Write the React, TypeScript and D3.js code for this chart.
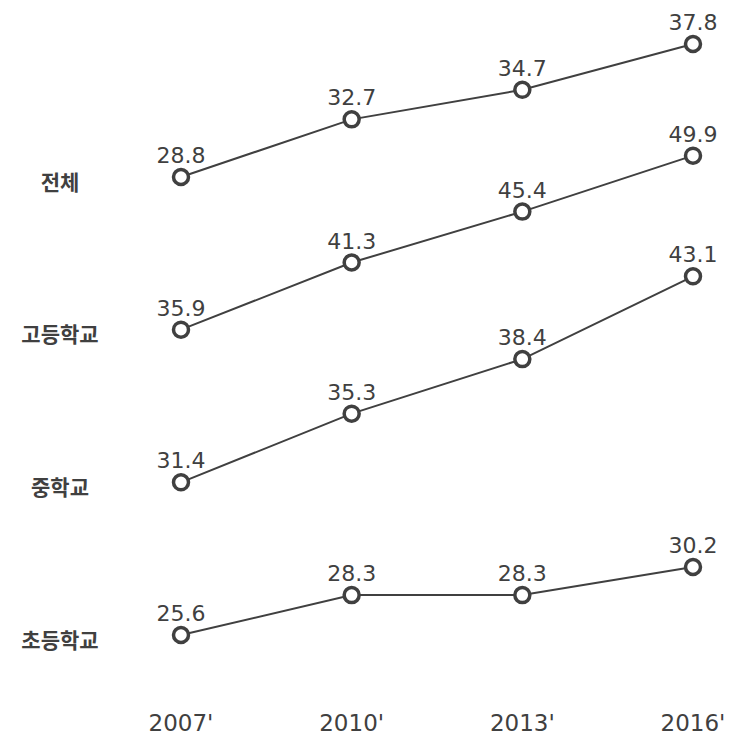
import * as d3 from "d3"

const years = ["2007'", "2010'", "2013'", "2016'"]
const rows = ["전체", "고등학교", "중학교", "초등학교"]

const total = [28.8, 32.7, 34.7, 37.8]
const high = [35.9, 41.3, 45.4, 49.9]
const middle = [31.4, 35.3, 38.4, 43.1]
const elementary = [25.6, 28.3, 28.3, 30.2]

const series = [total, high, middle, elementary]

// vertical pixel span each row's line occupies
const rowSpan = [133, 174, 206, 68]

const W = 731
const H = 743
const ink = "#404040"
const numFont = "'DejaVu Sans', 'Noto Sans', sans-serif"
const krFont = "'Noto Sans CJK KR', sans-serif"

export default function App() {
  const x = d3.scalePoint<string>().domain(years).range([181, 693])
  const rowY = d3.scalePoint<string>().domain(rows).range([177, 635])

  const lines = series.map((vals, i) => {
    const base = rowY(rows[i])!
    const y = d3
      .scaleLinear()
      .domain([vals[0], vals[vals.length - 1]])
      .range([base, base - rowSpan[i]])
    const pts = vals.map((v, j) => ({ x: x(years[j])!, y: y(v), v }))
    const path = d3
      .line<{ x: number; y: number }>()
      .x((d) => d.x)
      .y((d) => d.y)(pts)
    return { name: rows[i], base, pts, path }
  })

  return (
    <svg
      width={W}
      height={H}
      style={{ position: "absolute", left: 0, top: 0, background: "#fff" }}
    >
      {lines.map((l) => (
        <g key={l.name}>
          <text
            x={60}
            y={l.base + 7}
            dominantBaseline="middle"
            textAnchor="middle"
            fontFamily={krFont}
            fontWeight={700}
            fontSize={21}
            fill={ink}
          >
            {l.name}
          </text>
          <path d={l.path ?? ""} fill="none" stroke={ink} strokeWidth={2} />
          {l.pts.map((p, j) => (
            <g key={j}>
              <circle
                cx={p.x}
                cy={p.y}
                r={7.5}
                fill="#fff"
                stroke={ink}
                strokeWidth={3.5}
              />
              <text
                x={p.x}
                y={p.y - 14}
                textAnchor="middle"
                fontFamily={numFont}
                fontSize={22}
                fill={ink}
              >
                {p.v.toFixed(1)}
              </text>
            </g>
          ))}
        </g>
      ))}

      {years.map((yr) => (
        <text
          key={yr}
          x={x(yr)!}
          y={731}
          textAnchor="middle"
          fontFamily={numFont}
          fontSize={23}
          fill={ink}
        >
          {yr}
        </text>
      ))}
    </svg>
  )
}
